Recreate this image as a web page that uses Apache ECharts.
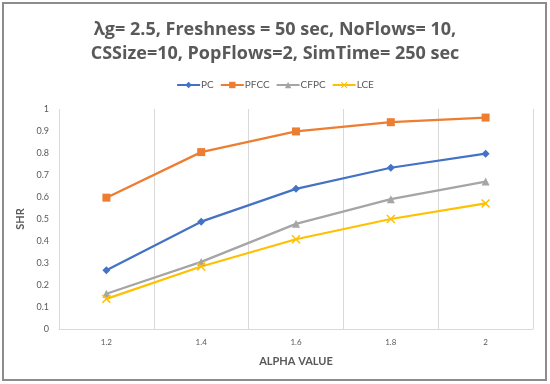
<!DOCTYPE html>
<html><head><meta charset="utf-8">
<script src="https://cdn.jsdelivr.net/npm/echarts@6/dist/echarts.min.js"></script>
<style>html,body{margin:0;padding:0;background:#fff}#c{width:550px;height:384px}</style>
</head><body><div id="c"></div>
<script>
const categories = ['1.2', '1.4', '1.6', '1.8', '2'];
const pcValues   = [0.267, 0.488, 0.637, 0.733, 0.797];
const pfccValues = [0.597, 0.804, 0.898, 0.940, 0.961];
const cfpcValues = [0.160, 0.305, 0.478, 0.590, 0.670];
const lceValues  = [0.137, 0.284, 0.408, 0.500, 0.571];
const seriesNames = ['PC', 'PFCC', 'CFPC', 'LCE'];
const titleLines = ['λg= 2.5, Freshness = 50 sec, NoFlows= 10,', 'CSSize=10, PopFlows=2, SimTime= 250 sec'];

const xShape = 'path://M0,1.2L1.2,0L5,3.8L8.8,0L10,1.2L6.2,5L10,8.8L8.8,10L5,6.2L1.2,10L0,8.8L3.8,5Z';
const colors = ['#4472C4', '#ED7D31', '#A5A5A5', '#FFC000'];
const symbols = ['diamond', 'rect', 'triangle', xShape];
const sizes = [8, 8, 8, 9];
const dataArr = [pcValues, pfccValues, cfpcValues, lceValues];

const chart = echarts.init(document.getElementById('c'), null, {renderer: 'canvas'});
chart.setOption({
  animation: false,
  backgroundColor: '#fff',
  title: {
    text: titleLines.join('\n'),
    left: 'center', top: 13,
    textStyle: {fontFamily: 'Open Sans', fontWeight: 'bold', fontSize: 18, color: '#595959', lineHeight: 24}
  },
  legend: {
    top: 75, left: 'center',
    itemWidth: 23, itemHeight: 8, itemGap: 6,
    textStyle: {fontFamily: 'Lato', fontSize: 10, color: '#595959', padding: [0, 0, 0, -4]},
    data: seriesNames
  },
  graphic: [{
    type: 'rect', shape: {x: 3, y: 3, width: 543, height: 377},
    style: {fill: 'none', stroke: '#8c8c8c', lineWidth: 2}, silent: true
  }],
  grid: {left: 59, right: 17, top: 109, bottom: 55},
  xAxis: {
    type: 'category', data: categories, boundaryGap: true,
    name: 'ALPHA VALUE', nameLocation: 'middle', nameGap: 27,
    nameTextStyle: {fontFamily: 'Lato', fontWeight: 'bold', fontSize: 11, color: '#595959'},
    axisLine: {show: true, lineStyle: {color: '#D9D9D9', width: 1}},
    axisTick: {show: false},
    axisLabel: {fontFamily: 'Lato', fontSize: 8, color: '#595959', margin: 9},
    splitLine: {show: true, interval: 0, lineStyle: {color: '#D9D9D9', width: 1}}
  },
  yAxis: {
    type: 'value', min: 0, max: 1, interval: 0.1,
    name: 'SHR', nameLocation: 'middle', nameGap: 29,
    nameTextStyle: {fontFamily: 'Lato', fontWeight: 'bold', fontSize: 11, color: '#595959'},
    axisLine: {show: false}, axisTick: {show: false},
    axisLabel: {fontFamily: 'Lato', fontSize: 9, color: '#595959', margin: 10},
    splitLine: {show: false}
  },
  series: seriesNames.map((n, i) => ({
    name: n, type: 'line', data: dataArr[i],
    symbol: symbols[i], symbolSize: sizes[i], showSymbol: true,
    lineStyle: {color: colors[i], width: 2.25},
    itemStyle: {color: colors[i]}
  }))
});
</script></body></html>
